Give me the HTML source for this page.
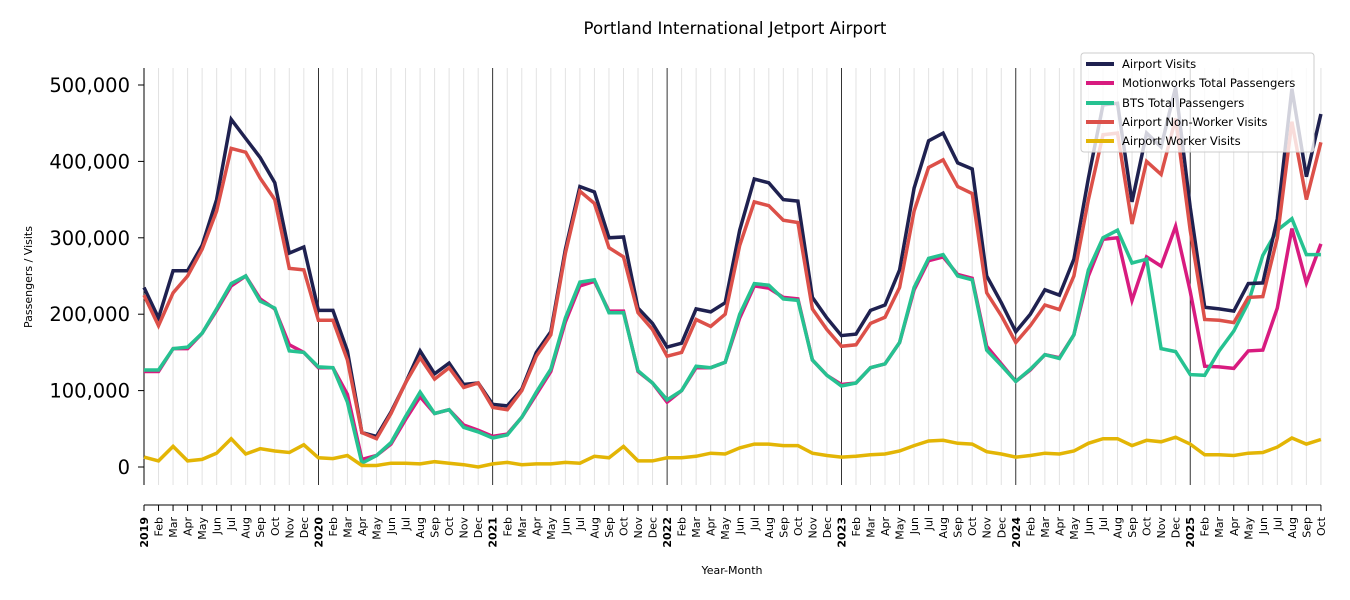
<!DOCTYPE html>
<html><head><meta charset="utf-8"><style>
html,body{margin:0;padding:0;background:#fff;}
svg{display:block;font-family:"DejaVu Sans","Liberation Sans",sans-serif;}
</style></head><body>
<svg id="c" width="1350" height="600" viewBox="0 0 1350 600">
<text x="735" y="34" font-size="16.6" text-anchor="middle">Portland International Jetport Airport</text>
<g id="grid"></g>
<g stroke="#000" stroke-width="0.8">
<line x1="318.4" y1="68" x2="318.4" y2="485"/><line x1="492.7" y1="68" x2="492.7" y2="485"/>
<line x1="667.1" y1="68" x2="667.1" y2="485"/><line x1="841.4" y1="68" x2="841.4" y2="485"/>
<line x1="1015.8" y1="68" x2="1015.8" y2="485"/><line x1="1190.2" y1="68" x2="1190.2" y2="485"/>
</g>
<g stroke="#000" stroke-width="1">
<line x1="144" y1="68" x2="144" y2="485"/>
<line x1="144" y1="505" x2="1321" y2="505"/>
<line x1="138" y1="467" x2="144" y2="467"/><line x1="138" y1="390.6" x2="144" y2="390.6"/>
<line x1="138" y1="314.2" x2="144" y2="314.2"/><line x1="138" y1="237.8" x2="144" y2="237.8"/>
<line x1="138" y1="161.4" x2="144" y2="161.4"/><line x1="138" y1="85" x2="144" y2="85"/>
</g>
<g font-size="19.5" text-anchor="end">
<text x="130" y="474">0</text><text x="130" y="397.6">100,000</text><text x="130" y="321.2">200,000</text>
<text x="130" y="244.8">300,000</text><text x="130" y="168.4">400,000</text><text x="130" y="92">500,000</text>
</g>
<text transform="translate(32,277) rotate(-90)" font-size="11" text-anchor="middle">Passengers / Visits</text>
<text x="732" y="574" font-size="11" text-anchor="middle">Year-Month</text>
<g id="xt"></g>
<g transform="rotate(-90)" text-anchor="end" font-size="11">
<text x="-517" y="148" font-weight="bold">2019</text><text x="-517" y="162.5">Feb</text><text x="-517" y="177.1">Mar</text><text x="-517" y="191.6">Apr</text><text x="-517" y="206.1">May</text><text x="-517" y="220.7">Jun</text><text x="-517" y="235.2">Jul</text><text x="-517" y="249.7">Aug</text><text x="-517" y="264.2">Sep</text><text x="-517" y="278.8">Oct</text><text x="-517" y="293.3">Nov</text><text x="-517" y="307.8">Dec</text>
<text x="-517" y="322.4" font-weight="bold">2020</text><text x="-517" y="336.9">Feb</text><text x="-517" y="351.4">Mar</text><text x="-517" y="365.9">Apr</text><text x="-517" y="380.5">May</text><text x="-517" y="395">Jun</text><text x="-517" y="409.5">Jul</text><text x="-517" y="424.1">Aug</text><text x="-517" y="438.6">Sep</text><text x="-517" y="453.1">Oct</text><text x="-517" y="467.7">Nov</text><text x="-517" y="482.2">Dec</text>
<text x="-517" y="496.7" font-weight="bold">2021</text><text x="-517" y="511.3">Feb</text><text x="-517" y="525.8">Mar</text><text x="-517" y="540.3">Apr</text><text x="-517" y="554.8">May</text><text x="-517" y="569.4">Jun</text><text x="-517" y="583.9">Jul</text><text x="-517" y="598.4">Aug</text><text x="-517" y="613">Sep</text><text x="-517" y="627.5">Oct</text><text x="-517" y="642">Nov</text><text x="-517" y="656.6">Dec</text>
<text x="-517" y="671.1" font-weight="bold">2022</text><text x="-517" y="685.6">Feb</text><text x="-517" y="700.1">Mar</text><text x="-517" y="714.7">Apr</text><text x="-517" y="729.2">May</text><text x="-517" y="743.7">Jun</text><text x="-517" y="758.3">Jul</text><text x="-517" y="772.8">Aug</text><text x="-517" y="787.3">Sep</text><text x="-517" y="801.9">Oct</text><text x="-517" y="816.4">Nov</text><text x="-517" y="830.9">Dec</text>
<text x="-517" y="845.4" font-weight="bold">2023</text><text x="-517" y="860">Feb</text><text x="-517" y="874.5">Mar</text><text x="-517" y="889">Apr</text><text x="-517" y="903.6">May</text><text x="-517" y="918.1">Jun</text><text x="-517" y="932.6">Jul</text><text x="-517" y="947.2">Aug</text><text x="-517" y="961.7">Sep</text><text x="-517" y="976.2">Oct</text><text x="-517" y="990.7">Nov</text><text x="-517" y="1005.3">Dec</text>
<text x="-517" y="1019.8" font-weight="bold">2024</text><text x="-517" y="1034.3">Feb</text><text x="-517" y="1048.9">Mar</text><text x="-517" y="1063.4">Apr</text><text x="-517" y="1077.9">May</text><text x="-517" y="1092.5">Jun</text><text x="-517" y="1107">Jul</text><text x="-517" y="1121.5">Aug</text><text x="-517" y="1136">Sep</text><text x="-517" y="1150.6">Oct</text><text x="-517" y="1165.1">Nov</text><text x="-517" y="1179.6">Dec</text>
<text x="-517" y="1194.2" font-weight="bold">2025</text><text x="-517" y="1208.7">Feb</text><text x="-517" y="1223.2">Mar</text><text x="-517" y="1237.8">Apr</text><text x="-517" y="1252.3">May</text><text x="-517" y="1266.8">Jun</text><text x="-517" y="1281.3">Jul</text><text x="-517" y="1295.9">Aug</text><text x="-517" y="1310.4">Sep</text><text x="-517" y="1324.9">Oct</text>
</g>
<g id="lines" fill="none" stroke-width="3.5" stroke-linejoin="miter"></g>
<g>
<rect x="1081" y="53" width="233" height="99" rx="3" fill="#fff" fill-opacity="0.8" stroke="#ccc"/>
<g stroke-width="4">
<line x1="1086" y1="64" x2="1114" y2="64" stroke="#1f2150"/>
<line x1="1086" y1="83" x2="1114" y2="83" stroke="#d81b7f"/>
<line x1="1086" y1="103" x2="1114" y2="103" stroke="#26c291"/>
<line x1="1086" y1="122" x2="1114" y2="122" stroke="#dc5049"/>
<line x1="1086" y1="141" x2="1114" y2="141" stroke="#e3b505"/>
</g>
<g font-size="11.6">
<text x="1122" y="68">Airport Visits</text>
<text x="1122" y="87">Motionworks Total Passengers</text>
<text x="1122" y="107">BTS Total Passengers</text>
<text x="1122" y="126">Airport Non-Worker Visits</text>
<text x="1122" y="145">Airport Worker Visits</text>
</g>
</g>
</svg>
<script>
var NS="http://www.w3.org/2000/svg";
function X(i){return 144+i*14.53;}
function Y(v){return 467-v*0.764;}
var g=document.getElementById("grid"),xt=document.getElementById("xt");
for(var i=0;i<82;i++){
 if(i%12){var l=document.createElementNS(NS,"line");l.setAttribute("x1",X(i));l.setAttribute("x2",X(i));l.setAttribute("y1",68);l.setAttribute("y2",485);l.setAttribute("stroke","#e2e2e2");l.setAttribute("stroke-width","1");g.appendChild(l);}
 var t=document.createElementNS(NS,"line");t.setAttribute("x1",X(i));t.setAttribute("x2",X(i));t.setAttribute("y1",505);t.setAttribute("y2",511);t.setAttribute("stroke","#000");xt.appendChild(t);
}
var S=[
["#d81b7f",[125,125,155,155,175,205,237,250,220,207,160,150,130,130,95,10,15,30,62,92,70,75,55,48,40,43,65,95,125,190,237,243,204,204,125,110,85,100,130,130,137,195,237,234,222,220,140,120,108,110,130,135,163,232,270,275,252,247,158,135,112,127,147,143,173,250,298,300,218,275,263,315,230,132,131,129,152,153,208,312,241,292]],
["#26c291",[127,127,155,157,175,207,240,250,217,208,152,150,131,130,85,5,15,32,66,98,70,75,52,46,38,42,65,98,128,195,242,245,202,202,126,110,88,100,132,130,137,200,240,238,220,218,140,120,106,110,130,135,163,235,273,278,250,245,153,133,112,128,147,142,173,258,300,310,267,272,155,151,121,120,152,178,215,277,310,325,278,278]],
["#1f2150",[235,195,257,257,290,350,455,430,405,372,280,288,205,205,152,45,40,72,110,152,122,136,108,110,82,80,102,150,177,285,367,360,300,301,208,188,157,162,207,203,215,310,377,372,350,348,222,195,172,174,205,212,258,365,427,437,398,390,250,215,177,200,232,225,272,378,474,476,347,437,419,497,340,209,207,204,240,241,325,495,380,462]],
["#dc5049",[225,185,228,250,285,335,417,412,378,350,260,258,192,192,140,45,37,70,110,143,115,130,104,110,78,75,100,145,173,280,361,345,287,275,202,180,145,150,193,184,200,290,347,342,323,320,207,180,158,160,188,196,235,335,392,402,367,358,228,198,163,185,212,206,250,350,435,437,318,400,383,456,310,193,192,189,222,223,300,452,350,425]],
["#e3b505",[13,8,27,8,10,18,37,17,24,21,19,29,12,11,15,2,2,5,5,4,7,5,3,0,4,6,3,4,4,6,5,14,12,27,8,8,12,12,14,18,17,25,30,30,28,28,18,15,13,14,16,17,21,28,34,35,31,30,20,17,13,15,18,17,21,31,37,37,28,35,33,39,30,16,16,15,18,19,26,38,30,36]]
];
var L=document.getElementById("lines");
S.forEach(function(s){var p=document.createElementNS(NS,"polyline");p.setAttribute("stroke",s[0]);p.setAttribute("points",s[1].map(function(v,i){return X(i).toFixed(1)+","+Y(v).toFixed(1);}).join(" "));L.appendChild(p);});
</script>
</body></html>
